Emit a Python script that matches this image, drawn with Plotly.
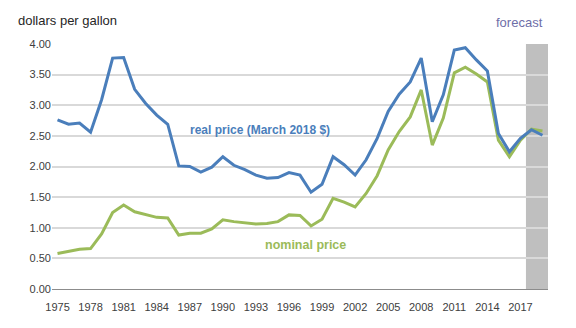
import plotly.graph_objects as go

years = list(range(1975, 2020))
real_price = [2.76, 2.69, 2.71, 2.56, 3.09, 3.77, 3.78, 3.26, 3.03, 2.84, 2.69,
              2.01, 2.00, 1.91, 1.99, 2.16, 2.02, 1.95, 1.86, 1.81, 1.82, 1.90,
              1.86, 1.58, 1.71, 2.16, 2.03, 1.86, 2.11, 2.46, 2.90, 3.18, 3.38,
              3.77, 2.73, 3.17, 3.90, 3.94, 3.74, 3.56, 2.54, 2.24, 2.46, 2.60, 2.51]
nominal_price = [0.58, 0.61, 0.65, 0.66, 0.90, 1.25, 1.37, 1.26, 1.21, 1.17, 1.16,
                 0.88, 0.91, 0.91, 0.98, 1.13, 1.10, 1.08, 1.06, 1.07, 1.10, 1.21,
                 1.20, 1.03, 1.14, 1.48, 1.42, 1.34, 1.56, 1.85, 2.27, 2.57, 2.81,
                 3.25, 2.35, 2.79, 3.53, 3.62, 3.51, 3.38, 2.43, 2.16, 2.43, 2.61, 2.58]
tick_years = list(range(1975, 2018, 3))
y_ticks = [0, 0.5, 1.0, 1.5, 2.0, 2.5, 3.0, 3.5, 4.0]
forecast_start, forecast_end = 2017.5, 2019.5

BLUE = "#4A7EBB"
GREEN = "#9BBB59"

fig = go.Figure()
fig.add_shape(type="rect", xref="x", yref="y", x0=forecast_start, x1=forecast_end,
              y0=0, y1=4, fillcolor="#BFBFBF", line_width=0, layer="below")
fig.add_trace(go.Scatter(x=years, y=nominal_price, mode="lines",
                         line=dict(color=GREEN, width=3), hoverinfo="skip"))
fig.add_trace(go.Scatter(x=years, y=real_price, mode="lines",
                         line=dict(color=BLUE, width=3), hoverinfo="skip"))

fig.update_layout(
    width=576, height=328,
    margin=dict(l=52, r=28, t=44, b=39),
    paper_bgcolor="white", plot_bgcolor="white",
    showlegend=False,
    font=dict(family="Liberation Sans, Arial, sans-serif", size=11, color="#404040"),
    xaxis=dict(range=[1974.5, 2019.5], tickmode="array", tickvals=tick_years,
               ticktext=[str(y) for y in tick_years], showgrid=False,
               showline=True, linecolor="#8C8C8C", linewidth=1, ticks="",
               ticklabelstandoff=8,
               zeroline=False, tickfont=dict(size=11, color="#404040")),
    yaxis=dict(range=[0, 4], tickmode="array", tickvals=y_ticks,
               ticktext=["%.2f" % v for v in y_ticks], showgrid=True,
               gridcolor="#D9D9D9", gridwidth=1.5, zeroline=False, ticks="",
               showline=False, tickfont=dict(size=11, color="#404040"), ticksuffix="  "),
    annotations=[
        dict(text="dollars per gallon", xref="paper", yref="paper", x=-0.072, y=1.0,
             yshift=24, xanchor="left", yanchor="middle", showarrow=False,
             font=dict(size=13, color="#262626")),
        dict(text="forecast", xref="paper", yref="paper", x=0.943, y=1.0, yshift=22,
             xanchor="center", yanchor="middle", showarrow=False,
             font=dict(size=13, color="#6E6EA8")),
        dict(text="<b>real price (March 2018 $)</b>", xref="x", yref="y", x=1993.4, y=2.60,
             xanchor="center", yanchor="middle", showarrow=False,
             font=dict(size=12, color=BLUE)),
        dict(text="<b>nominal price</b>", xref="x", yref="y", x=1997.5, y=0.72,
             xanchor="center", yanchor="middle", showarrow=False,
             font=dict(size=12.5, color=GREEN)),
    ],
)

fig.write_html("out.html")
